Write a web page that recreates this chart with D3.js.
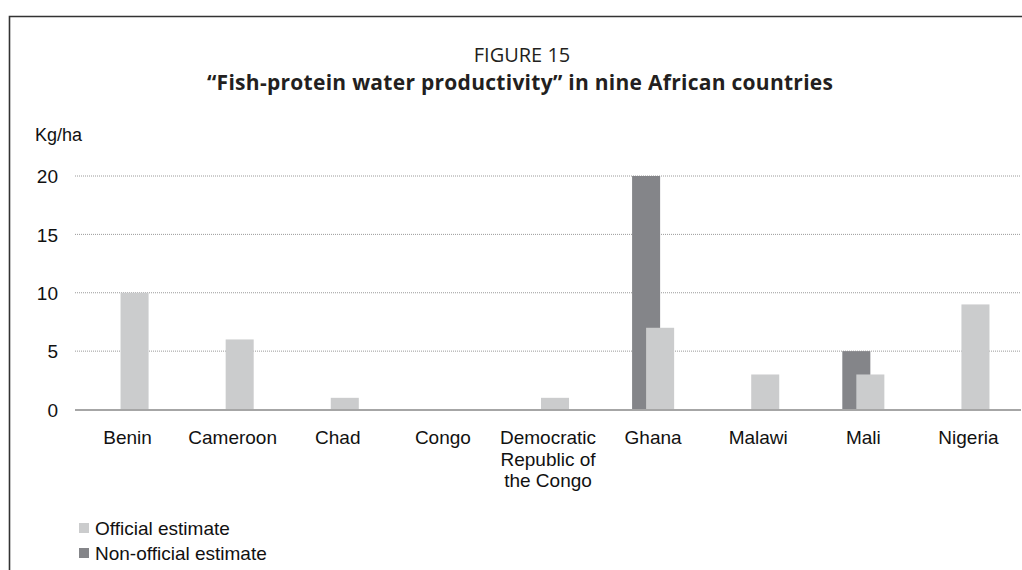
<!DOCTYPE html>
<html>
<head>
<meta charset="utf-8">
<script src="https://cdn.jsdelivr.net/npm/d3@7"></script>
<style>
  html, body { margin: 0; padding: 0; background: #fff; }
  svg { display: block; }
</style>
</head>
<body>
<script>
// Fish-protein water productivity, kg/ha, by country
const categories = ["Benin", "Cameroon", "Chad", "Congo", "Democratic Republic of the Congo", "Ghana", "Malawi", "Mali", "Nigeria"];
const categoryLines = [["Benin"], ["Cameroon"], ["Chad"], ["Congo"], ["Democratic", "Republic of", "the Congo"], ["Ghana"], ["Malawi"], ["Mali"], ["Nigeria"]];
const officialEstimate = [10, 6, 1, 0, 1, 7, 3, 3, 9];
const nonOfficialEstimate = [0, 0, 0, 0, 0, 20, 0, 5, 0];
const yTicks = [0, 5, 10, 15, 20];
const seriesNames = ["Official estimate", "Non-official estimate"];

const W = 1022, H = 570;
const colLight = "#cbcccd", colDark = "#848589";
const sans = "'Liberation Sans', Arial, sans-serif";
const titleFont = "'Open Sans', 'Noto Sans', sans-serif";

const svg = d3.select("body").append("svg").attr("width", W).attr("height", H);

// frame
svg.append("path")
  .attr("d", `M9.5,${H} V16.5 H${W}`)
  .attr("fill", "none").attr("stroke", "#333").attr("stroke-width", 1.6);

// titles
svg.append("text").attr("x", 522).attr("y", 62).attr("text-anchor", "middle")
  .attr("font-family", titleFont).attr("font-size", 20).attr("fill", "#231f20")
  .text("FIGURE 15");
svg.append("text").attr("x", 520).attr("y", 90).attr("text-anchor", "middle")
  .attr("font-family", titleFont).attr("font-size", 21).attr("font-weight", "bold").attr("fill", "#231f20")
  .attr("textLength", 626).attr("lengthAdjust", "spacing")
  .text("\u201CFish-protein water productivity\u201D in nine African countries");

svg.append("text").attr("x", 35).attr("y", 141)
  .attr("font-family", sans).attr("font-size", 18).attr("fill", "#111")
  .text("Kg/ha");

const x = d3.scaleBand().domain(categories).range([75, 1021]).paddingInner(0).paddingOuter(0);
const y = d3.scaleLinear().domain([0, 20]).range([409.5, 176]);

// gridlines
const grid = svg.append("g");
grid.selectAll("line").data(yTicks.filter(t => t > 0)).join("line")
  .attr("x1", 75).attr("x2", 1021)
  .attr("y1", d => y(d)).attr("y2", d => y(d))
  .attr("stroke", "#9a9a9a").attr("stroke-width", 1).attr("stroke-dasharray", "1,1");

// y axis labels
const yAxis = d3.axisLeft(y).tickValues(yTicks).tickSize(0).tickPadding(0);
const ya = svg.append("g").attr("transform", "translate(58,0)").call(yAxis);
ya.select(".domain").remove();
ya.selectAll("text").attr("font-family", sans).attr("font-size", 19).attr("fill", "#111").attr("dy", "0.35em");

// bars: the two series overlap by half a bar width
const barW = x.bandwidth() * 0.2667;
const cx = d => x(d) + x.bandwidth() / 2;

svg.append("g").selectAll("rect").data(categories).join("rect")
  .attr("x", (d) => cx(d) - 0.75 * barW)
  .attr("width", barW)
  .attr("y", (d, i) => y(nonOfficialEstimate[i]))
  .attr("height", (d, i) => y(0) - y(nonOfficialEstimate[i]))
  .attr("fill", colDark);

svg.append("g").selectAll("rect").data(categories).join("rect")
  .attr("x", (d) => cx(d) - 0.25 * barW)
  .attr("width", barW)
  .attr("y", (d, i) => y(officialEstimate[i]))
  .attr("height", (d, i) => y(0) - y(officialEstimate[i]))
  .attr("fill", colLight);

// baseline
svg.append("line").attr("x1", 75).attr("x2", 1021)
  .attr("y1", y(0) + 0.5).attr("y2", y(0) + 0.5)
  .attr("stroke", "#a6a6a6").attr("stroke-width", 2);

// category labels
const xl = svg.append("g").attr("font-family", sans).attr("font-size", 19).attr("fill", "#111").attr("text-anchor", "middle");
xl.selectAll("text").data(categories).join("text")
  .attr("x", d => cx(d)).attr("y", 444)
  .each(function (d, i) {
    d3.select(this).selectAll("tspan").data(categoryLines[i]).join("tspan")
      .attr("x", cx(d)).attr("dy", (l, j) => j === 0 ? 0 : 21.5).text(l => l);
  });

// legend
const legend = svg.append("g").attr("font-family", sans).attr("font-size", 19).attr("fill", "#111");
const legendColors = [colLight, colDark];
seriesNames.forEach((name, i) => {
  legend.append("rect").attr("x", 79).attr("y", 523 + i * 25).attr("width", 10).attr("height", 10).attr("fill", legendColors[i]);
  legend.append("text").attr("x", 95).attr("y", 535 + i * 25).text(name);
});
</script>
</body>
</html>
